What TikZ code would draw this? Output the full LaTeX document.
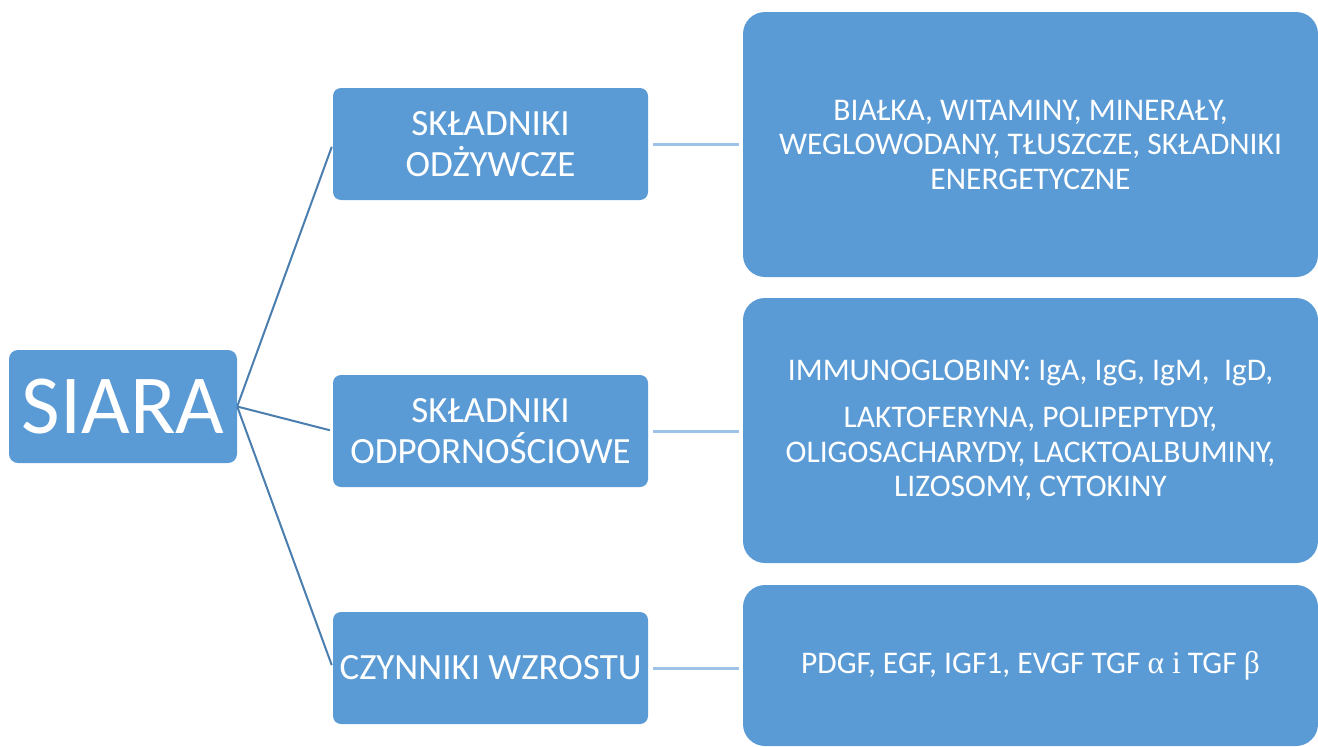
\documentclass[tikz,border=0pt]{standalone}
\usepackage{fontspec}
\setmainfont{Carlito}
\newfontfamily\greekfont{Liberation Serif}
\definecolor{boxblue}{HTML}{5B9BD5}
\definecolor{darkline}{HTML}{4A7EAF}
\definecolor{lightline}{HTML}{9DC3E6}
\begin{document}
\begin{tikzpicture}[x=1pt, y=-1pt, root node/.style={rectangle,rounded corners=9pt,fill=boxblue,text=white,minimum width=228pt,minimum height=113pt,inner sep=0pt,font=\fontsize{84}{90}\selectfont}, main node/.style={rectangle,rounded corners=8pt,fill=boxblue,text=white,align=center,minimum width=315pt,minimum height=112pt,inner sep=0pt,font=\fontsize{37}{41}\selectfont}, leaf node/.style={rectangle,rounded corners=22pt,fill=boxblue,text=white,align=center,minimum width=575pt,inner sep=0pt,font=\fontsize{31.5}{34.5}\selectfont}, branch/.style={draw=darkline,line width=2pt,shorten >=3pt}, twig/.style={draw=lightline,line width=3pt,shorten <=5pt,shorten >=4pt}]
\useasboundingbox (0,0) rectangle (1318,747);
\node[root node] (siara) at (123,406.5) {SIARA};
\node[main node] (m1) at (490.5,144) {SKŁADNIKI\\ODŻYWCZE};
\node[main node] (m2) at (490.5,431) {SKŁADNIKI\\ODPORNOŚCIOWE};
\node[main node] (m3) at (490.5,668) {CZYNNIKI WZROSTU};
\node[leaf node,minimum height=265pt] (l1) at (1030.5,144.5) {BIAŁKA, WITAMINY, MINERAŁY,\\WEGLOWODANY, TŁUSZCZE, SKŁADNIKI\\ENERGETYCZNE};
\node[leaf node,minimum height=265pt] (l2) at (1030.5,430.5) {IMMUNOGLOBINY: IgA, IgG, IgM,~ IgD,\\[13pt]LAKTOFERYNA, POLIPEPTYDY,\\OLIGOSACHARYDY, LACKTOALBUMINY,\\LIZOSOMY, CYTOKINY};
\node[leaf node,minimum height=161pt] (l3) at (1030.5,665.5) {PDGF, EGF, IGF1, EVGF TGF {\greekfont α i} TGF {\greekfont β}};
\draw[branch] (siara.east) -- (m1.west);
\draw[branch] (siara.east) -- (m2.west);
\draw[branch] (siara.east) -- (m3.west);
\draw[twig] (m1.east) -- (m1.east -| l1.west);
\draw[twig] (m2.east) -- (m2.east -| l2.west);
\draw[twig] (m3.east) -- (m3.east -| l3.west);
\end{tikzpicture}
\end{document}
